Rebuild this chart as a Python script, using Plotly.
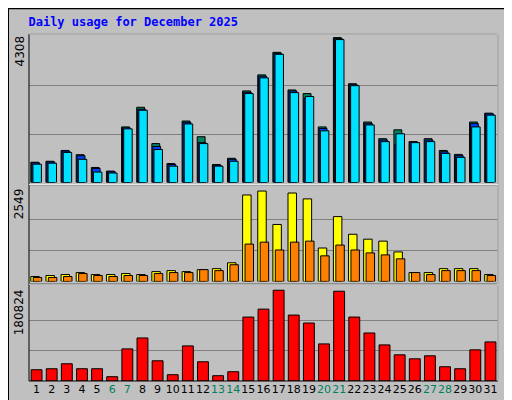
import plotly.graph_objects as go

days = list(range(1, 32))
weekends = [6, 7, 13, 14, 20, 21, 27, 28]
hits = [603,632,953,827,447,340,1653,2237,1157,564,1828,1362,535,720,2723,3200,3871,2752,2645,1653,4308,2937,1799,1303,1566,1216,1303,953,836,1799,2062]
files = [583,613,934,797,418,321,1624,2178,1070,535,1789,1186,515,690,2684,3161,3841,2723,2509,1605,4279,2908,1750,1264,1128,1206,1264,914,797,1750,2042]
pages = [545,574,895,690,311,282,1595,2149,982,486,1741,1157,486,632,2645,3112,3812,2674,2558,1537,4250,2879,1712,1216,1449,1186,1216,866,749,1653,2003]
visits = [135,162,189,243,189,189,216,189,270,297,270,324,351,513,2378,2486,1567,2432,2270,919,1783,1297,1162,1108,811,243,243,351,351,351,189]
sites = [108,108,135,216,162,135,162,162,216,243,243,324,297,459,1027,1081,865,1081,1108,703,1000,865,784,730,621,243,189,297,297,297,162]
kbytes = [22437,24417,34316,24417,24417,8579,64012,85791,40255,12538,69953,38275,10559,18478,127364,143201,180824,131323,115484,73911,178844,127364,95687,71931,52134,44215,50154,28377,24417,62032,77870]
max_top, max_mid, max_bot = 4308, 2549, 180824

FONT = "DejaVu Sans Mono"
fig = go.Figure()
line = dict(color="black", width=1)
def bar(y, color, off, w, ax):
    fig.add_bar(x=days, y=y, marker=dict(color=color, line=line), offset=off, width=w,
                xaxis="x", yaxis=ax, showlegend=False, hoverinfo="skip")

bar(hits, "#008060", -0.38, 0.52, "y3")
bar(files, "#0040FF", -0.32, 0.52, "y3")
bar(pages, "#00E0FF", -0.24, 0.56, "y3")
bar(visits, "#FFFF00", -0.38, 0.56, "y2")
bar(sites, "#FF8000", -0.22, 0.56, "y2")
bar(kbytes, "#FF0000", -0.36, 0.72, "y")

ticktext = [f'<span style="color:{"#008060" if d in weekends else "black"}">{d}</span>' for d in days]

def yax(dom, mx, f):
    return dict(domain=dom, range=[0, mx * f], tickvals=[mx / 3, 2 * mx / 3], showticklabels=False,
                showgrid=True, gridcolor="#808080", gridwidth=1, zeroline=False, fixedrange=True, ticks="")

fig.update_layout(
    width=512, height=400, margin=dict(l=21, r=22, t=26, b=25),
    paper_bgcolor="#C0C0C0", plot_bgcolor="#C0C0C0", barmode="overlay",
    font=dict(family=FONT, size=11, color="black"),
    xaxis=dict(range=[0.5, 31.5], tickvals=days, ticktext=ticktext, showgrid=False, zeroline=False,
               ticks="", anchor="y", fixedrange=True, tickangle=0, tickfont=dict(family="DejaVu Sans", size=11)),
    yaxis=yax([0, 0.272], max_bot, 1.04),
    yaxis2=yax([0.287, 0.562], max_mid, 1.03),
    yaxis3=yax([0.572, 1.0], max_top, 1.025),
    title=dict(text="<b>Daily usage for December 2025</b>", x=0.04, xanchor="left", y=0.975, yanchor="top",
               font=dict(family=FONT, size=12, color="#0000FF")),
)

shapes = [dict(type="rect", xref="paper", yref="paper", x0=-21/469, x1=1+22/469, y0=-25/349, y1=1+26/349,
               line=dict(color="black", width=2))]
for y0, y1 in [(0, 0.279), (0.279, 0.566), (0.566, 1.0)]:
    shapes.append(dict(type="rect", xref="paper", yref="paper", x0=0, x1=1, y0=y0, y1=y1,
                       line=dict(color="black", width=1)))
for yy in [0.279, 0.566]:
    shapes.append(dict(type="line", xref="paper", yref="paper", x0=0, x1=1, y0=yy, y1=yy,
                       line=dict(color="white", width=1)))
shapes.append(dict(type="line", xref="paper", yref="paper", x0=0, x1=1, y0=1, y1=1, line=dict(color="white", width=1)))
shapes.append(dict(type="line", xref="paper", yref="paper", x0=1, x1=1, y0=0, y1=1, line=dict(color="white", width=1)))
fig.update_layout(shapes=shapes)

ann = []
for txt, yy in [(str(max_top), 1.0), (str(max_mid), 0.56), (str(max_bot), 0.27)]:
    ann.append(dict(text=txt, xref="paper", yref="paper", x=-10/469, y=yy, xanchor="center", yanchor="top",
                    textangle=-90, showarrow=False, font=dict(family="DejaVu Sans", size=12)))
rx = 1 + 11/469
ann.append(dict(text='<span style="color:#00C8C8">Pages</span> / <span style="color:#0040FF">Files</span> / <span style="color:#008060">Hits</span>',
                xref="paper", yref="paper", x=rx, y=1.0, xanchor="center", yanchor="top", textangle=-90,
                showarrow=False, font=dict(family=FONT, size=11)))
ann.append(dict(text='<span style="color:#FF8000">Sites</span> / <span style="color:#E0E000">Visits</span>',
                xref="paper", yref="paper", x=rx, y=0.56, xanchor="center", yanchor="top", textangle=-90,
                showarrow=False, font=dict(family=FONT, size=11)))
ann.append(dict(text='<span style="color:#FF0000">KBytes</span>',
                xref="paper", yref="paper", x=rx, y=0.0, xanchor="center", yanchor="bottom", textangle=-90,
                showarrow=False, font=dict(family=FONT, size=11)))
fig.update_layout(annotations=ann)

fig.write_html("out.html")
